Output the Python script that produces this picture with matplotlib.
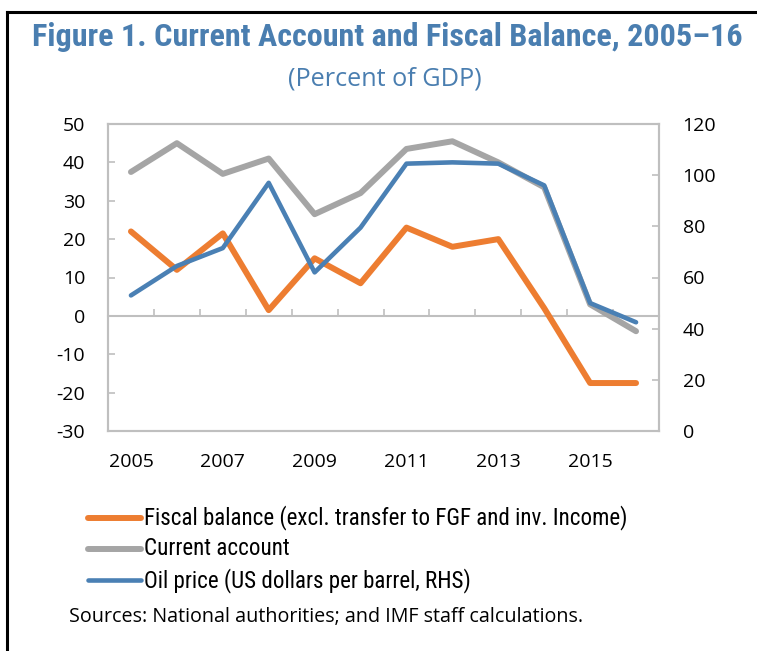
import numpy as np
import matplotlib
matplotlib.use('Agg')
import matplotlib.pyplot as plt
from matplotlib import font_manager
from matplotlib.lines import Line2D

#--------- data ---------
years = ['2005', '2006', '2007', '2008', '2009', '2010',
         '2011', '2012', '2013', '2014', '2015', '2016']
fiscal_balance = [22, 12, 21.5, 1.5, 15, 8.5, 23, 18, 20, 2, -17.5, -17.5]
current_account = [37.5, 45, 37, 41, 26.5, 32, 43.5, 45.5, 40, 33.5, 3, -4]
oil_price = [53, 64.5, 71.5, 97, 62, 79.5, 104.5, 105, 104.5, 96, 50, 42.5]

labels = ['Fiscal balance (excl. transfer to FGF and inv. Income)',
          'Current account',
          'Oil price (US dollars per barrel, RHS)']


#--------- helpers ---------
def first_font(names):
    for n in names:
        try:
            font_manager.findfont(n, fallback_to_default=False)
            return n
        except Exception:
            pass
    return 'DejaVu Sans'


def fit_width(txt, target_px):
    r = fig.canvas.get_renderer()
    w = txt.get_window_extent(r).width
    txt.set_fontsize(txt.get_fontsize() * target_px / w)


#--------- style ---------
C_ORANGE = '#ED7D31'
C_GRAY = '#A5A5A5'
C_BLUE = '#4A80B4'
C_TITLE = '#4A7EB0'
C_SPINE = '#BFBFBF'
BASE = first_font(['Open Sans', 'Noto Sans', 'Lato'])
NARROW = first_font(['Liberation Sans Narrow', 'Roboto Condensed',
                     'Open Sans Condensed', 'Roboto', 'Lato'])

plt.rcParams['font.family'] = [BASE, 'DejaVu Sans']
plt.rcParams['axes.unicode_minus'] = False

W, H = 757, 651
fig = plt.figure(figsize=(W / 100, H / 100), dpi=100)
ax = fig.add_axes([108 / W, 1 - 431 / H, (659 - 108) / W, (431 - 124) / H])
ax2 = ax.twinx()

x = np.arange(len(years))
l1, = ax.plot(x, fiscal_balance, color=C_ORANGE, lw=4.3, solid_capstyle='round',
              solid_joinstyle='round')
l2, = ax.plot(x, current_account, color=C_GRAY, lw=4.3, solid_capstyle='round',
              solid_joinstyle='round')
l3, = ax2.plot(x, oil_price, color=C_BLUE, lw=3.3, solid_capstyle='round',
               solid_joinstyle='round')

ax.set_xlim(-0.5, len(years) - 0.5)
ax.set_ylim(-30, 50)
ax.set_yticks(np.arange(-30, 51, 10))
ax2.set_ylim(0, 120)
ax2.set_yticks(np.arange(0, 121, 20))

ax.set_xticks(x[::2])
ax.set_xticklabels(years[::2])
ax.tick_params(axis='x', length=0, pad=15.5, labelsize=14)
ax.tick_params(axis='y', direction='in', length=5, width=1.2, color=C_SPINE,
               pad=16.5, labelsize=14)
ax2.tick_params(axis='y', direction='in', length=5, width=1.2, color=C_SPINE,
                pad=17, labelsize=14)

for a in (ax, ax2):
    for s in a.spines.values():
        s.set_color(C_SPINE)
        s.set_linewidth(1.5)

# zero line with category separator ticks
zero = ax.secondary_xaxis((0 - (-30)) / 80)
zero.set_xticks(np.arange(0.5, len(years) - 1, 1))
zero.tick_params(axis='x', direction='in', length=5, width=1.2, color=C_SPINE,
                 labelbottom=False)
zero.spines['bottom'].set_color(C_SPINE)
zero.spines['bottom'].set_linewidth(1.5)

# titles
t1 = fig.text(387 / W, 1 - 46 / H, 'Figure 1. Current Account and Fiscal Balance, 2005–16',
              ha='center', va='baseline', fontsize=18, fontweight='bold',
              color=C_TITLE, family=[NARROW, 'DejaVu Sans'])
fit_width(t1, 709)
t2 = fig.text(385 / W, 1 - 86 / H, '(Percent of GDP)', ha='center', va='baseline',
              fontsize=16, color=C_TITLE)
fit_width(t2, 194)

# legend
handles = [Line2D([], [], color=C_ORANGE, lw=4.3, solid_capstyle='round'),
           Line2D([], [], color=C_GRAY, lw=4.3, solid_capstyle='round'),
           Line2D([], [], color=C_BLUE, lw=3.3, solid_capstyle='round')]
leg = fig.legend(handles, labels, loc='upper left', bbox_to_anchor=(88 / W, 1 - 505 / H),
                 frameon=False, handlelength=2.7, handletextpad=0.2,
                 labelspacing=0.38, borderpad=0, borderaxespad=0,
                 prop={'family': [NARROW, 'DejaVu Sans'], 'size': 14})
lt = leg.get_texts()
fit_width(lt[0], 486)
for t in lt[1:]:
    t.set_fontsize(lt[0].get_fontsize())

t3 = fig.text(69 / W, 1 - 617 / H, 'Sources: National authorities; and IMF staff calculations.',
              ha='left', va='center', fontsize=12.5)
fit_width(t3, 518)

# frame (top and left edges)
fig.add_artist(Line2D([7 / W, 1], [1 - 12 / H, 1 - 12 / H], color='black', lw=2.2,
                      transform=fig.transFigure))
fig.add_artist(Line2D([7 / W, 7 / W], [0, 1 - 12 / H], color='black', lw=2.2,
                      transform=fig.transFigure))

fig.savefig('out.png', dpi=100)
